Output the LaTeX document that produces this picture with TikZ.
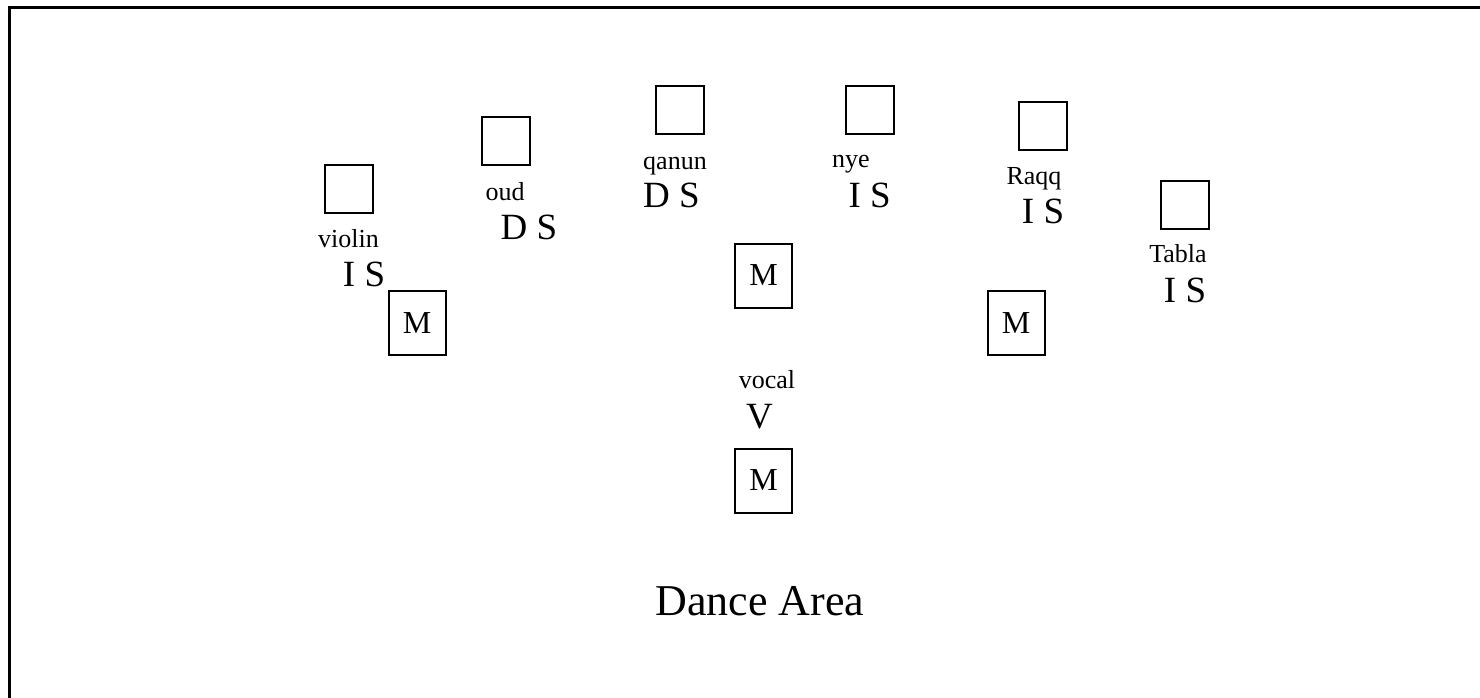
\documentclass[tikz,border=0pt]{standalone}
\usepackage{fontspec}
\setmainfont{Liberation Serif}
\newcommand\lblsmall{\fontsize{26}{28}\selectfont}
\newcommand\lblbig{\fontsize{37}{39}\selectfont}
\newcommand\lblmic{\fontsize{32}{34}\selectfont}
\newcommand\lbldance{\fontsize{44}{46}\selectfont}
\begin{document}
\begin{tikzpicture}[x=1pt,y=-1pt,
  seatbox/.style={draw,line width=2pt,minimum width=48pt,minimum height=48pt,inner sep=0pt},
  micbox/.style={draw,line width=2pt,minimum width=57pt,minimum height=64pt,inner sep=0pt,font=\lblmic},
  instlabel/.style={anchor=base,inner sep=0pt,font=\lblsmall},
  kindlabel/.style={anchor=base,inner sep=0pt,font=\lblbig},
  borderline/.style={line width=2.5pt}]
\useasboundingbox (0,0) rectangle (1480,698);
\coordinate (tr) at (1480,7.5);
\coordinate (tl) at (9.5,7.5);
\coordinate (bl) at (9.5,698);
\draw[borderline] (tr) -- (tl) -- (bl);
% instrument seats
\node[seatbox] (violinbox) at (348.5,188.5) {};
\node[seatbox] (oudbox) at (506,141) {};
\node[seatbox] (qanunbox) at (680,110) {};
\node[seatbox] (nyebox) at (869.5,110) {};
\node[seatbox] (raqqbox) at (1043,126) {};
\node[seatbox] (tablabox) at (1184.5,204.5) {};
% labels
\node[instlabel] (violin) at (348.5,247.7) {violin};
\node[kindlabel] (violinIS) at (364,286.7) {I S};
\node[instlabel] (oud) at (505,200) {oud};
\node[kindlabel] (oudDS) at (529,239.3) {D S};
\node[instlabel] (qanun) at (675,169.3) {qanun};
\node[kindlabel] (qanunDS) at (671.5,207.3) {D S};
\node[instlabel] (nye) at (851,167.7) {nye};
\node[kindlabel] (nyeIS) at (869.7,207.3) {I S};
\node[instlabel] (raqq) at (1034,184.3) {Raqq};
\node[kindlabel] (raqqIS) at (1043,223.3) {I S};
\node[instlabel] (tabla) at (1178,262.7) {Tabla};
\node[kindlabel] (tablaIS) at (1185,302) {I S};
\node[instlabel] (vocal) at (767,388.3) {vocal};
\node[kindlabel] (vocalV) at (759.5,428.3) {V};
% microphones
\node[micbox] (micL) at (417,323) {M};
\node[micbox] (micC) at (763.5,275.5) {M};
\node[micbox] (micR) at (1016,323) {M};
\node[micbox] (micV) at (763.5,480.5) {M};
\node[anchor=base,inner sep=0pt,font=\lbldance] (dance) at (760,615) {Dance Area};
\end{tikzpicture}
\end{document}
